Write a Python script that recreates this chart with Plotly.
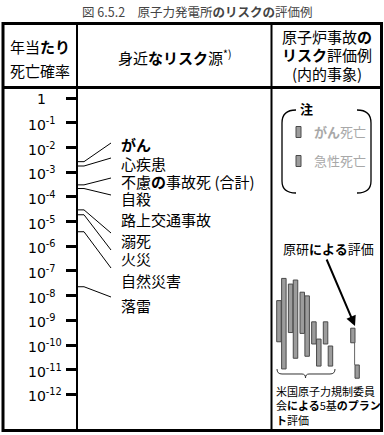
import plotly.graph_objects as go

# ---------------- data ----------------
tick_exponents = [0, -1, -2, -3, -4, -5, -6, -7, -8, -9, -10, -11, -12]

risk_sources = ["<b>がん</b>", "心疾患", "不慮<b>の</b>事故死 (合計)", "自殺", "路上交通事故",
                "溺死", "火災", "自然災害", "落雷"]
risk_prob = [2.7e-3, 1.8e-3, 3.1e-4, 2.2e-4, None, 3.0e-5, 1.9e-5, 3.9e-6, 2.3e-8]

# NRC evaluation of 5 plants: (cancer death, acute death) ranges
nrc_cancer_hi = [6.3e-9, 2.95e-8, 1.38e-8, 8.7e-10, 8.7e-10]
nrc_cancer_lo = [1.35e-10, 3.2e-10, 2.95e-10, 1.1e-10, 1.1e-10]
nrc_acute_hi = [5.0e-8, 4.3e-8, 9.8e-9, 1.74e-10, 9.1e-11]
nrc_acute_lo = [1.07e-11, 2.9e-11, 3.5e-11, 1.4e-11, 1.4e-11]

# JAERI evaluation
jaeri_cancer = [4.8e-10, 1.23e-10]
jaeri_acute = [1.55e-11, 4.5e-12]

# ---------------- layout helpers ----------------
W, H = 384, 435
Y0PX, DEC = 98.3, 24.67


def lg(py):
    return -(py - Y0PX) / DEC


def val(py):
    return 10 ** lg(py)


def pp(py):
    return 1 - py / H


JP = "Noto Sans CJK JP"
fig = go.Figure()

# leader lines for familiar risks
label_px = [145, 163, 181.5, 198.5, 219, 240, 258, 280.5, 305.5]
leader_end_px = [143, 158, 178, 195, None, 233, 250, 268, 297]
for p, e in zip(risk_prob, leader_end_px):
    if p is None:
        continue
    fig.add_trace(go.Scatter(x=[77, 84, 111], y=[p, p, val(e)], mode="lines",
                             line=dict(color="black", width=1), hoverinfo="skip", showlegend=False))


def rect(x0, x1, lo, hi):
    fig.add_trace(go.Scatter(x=[x0, x1, x1, x0, x0], y=[lo, lo, hi, hi, lo], mode="lines",
                             fill="toself", fillcolor="#9c9c9c",
                             line=dict(color="#4a4a4a", width=1), hoverinfo="skip", showlegend=False))


bw = 4.5
for i in range(5):
    xa = 276.7 + i * 11.65
    rect(xa, xa + bw, nrc_cancer_lo[i], nrc_cancer_hi[i])
    rect(xa + bw + 0.4, xa + 2 * bw + 0.4, nrc_acute_lo[i], nrc_acute_hi[i])

# JAERI bars
fig.add_trace(go.Scatter(x=[354.6, 354.6], y=[jaeri_cancer[1], jaeri_acute[0]], mode="lines",
                         line=dict(color="#666", width=1), hoverinfo="skip", showlegend=False))
rect(350.7, 355, jaeri_cancer[1], jaeri_cancer[0])
rect(355, 359.3, jaeri_acute[1], jaeri_acute[0])

shapes = []
# table frame
shapes.append(dict(type="rect", xref="x", yref="paper", x0=3, x1=381.5, y0=pp(430.5), y1=pp(23.5),
                   line=dict(color="black", width=3)))
shapes.append(dict(type="line", xref="x", yref="paper", x0=3, x1=381.5, y0=pp(87.5), y1=pp(87.5),
                   line=dict(color="black", width=3)))
shapes.append(dict(type="line", xref="x", yref="paper", x0=77, x1=77, y0=pp(430.5), y1=pp(23.5),
                   line=dict(color="black", width=2)))
shapes.append(dict(type="line", xref="x", yref="paper", x0=271.5, x1=271.5, y0=pp(430.5), y1=pp(23.5),
                   line=dict(color="black", width=2)))


def path(cmds):
    out = []
    for c in cmds:
        if isinstance(c, str):
            out.append(c)
        else:
            out.append(f"{c[0]},{pp(c[1]):.5f}")
    return " ".join(out)


# legend brackets
shapes.append(dict(type="path", xref="x", yref="paper",
                   path=path(["M", (296, 110), "Q", (282, 110), (282, 123), "L", (282, 181), "Q", (282, 193), (296, 193)]),
                   line=dict(color="black", width=1.3)))
shapes.append(dict(type="path", xref="x", yref="paper",
                   path=path(["M", (357, 110), "Q", (371, 110), (371, 123), "L", (371, 181), "Q", (371, 193), (357, 193)]),
                   line=dict(color="black", width=1.3)))
# legend swatches
for yc in [132, 161]:
    shapes.append(dict(type="rect", xref="x", yref="paper", x0=296, x1=301, y0=pp(yc + 5.5), y1=pp(yc - 5.5),
                       fillcolor="#9c9c9c", line=dict(color="#4a4a4a", width=1)))
# brace under NRC bars
shapes.append(dict(type="path", xref="x", yref="paper",
                   path=path(["M", (277, 369), "Q", (277, 374), (282, 374), "L", (302, 374), "Q", (305.5, 374), (305.5, 378),
                              "Q", (305.5, 374), (309, 374), "L", (330, 374), "Q", (335, 374), (335, 369)]),
                   line=dict(color="#333", width=1)))

ann = []


def txt(x, py, s, size=15, color="black", xanchor="center", family=JP):
    ann.append(dict(x=x, y=pp(py), xref="x", yref="paper", text=s, showarrow=False,
                    xanchor=xanchor, yanchor="middle", align="left", font=dict(family=family, size=size, color=color)))


txt(197, 11, "図 6.5.2　原子力発電所<b>のリスクの</b>評価例", size=12.5, color="#444")
txt(40, 46, "年当<b>たり</b>")
txt(40, 71, "死亡確率")
txt(174.5, 57, "身近<b>なリスク</b>源<sup>*)</sup>")
txt(326.5, 37, "原子炉事故<b>の</b>")
txt(326.5, 55, "<b>リスク</b>評価例")
txt(326.5, 74, "(内的事象)")

for s, py in zip(risk_sources, label_px):
    txt(119, py, s, size=15, xanchor="left")

# legend text
txt(306, 108, "<b>注</b>", size=13)
txt(312, 132, "<b>がん</b>死亡", size=13, color="#a8a8a8", xanchor="left")
txt(312, 161, "急性死亡", size=13, color="#a8a8a8", xanchor="left")

txt(281, 248, "原研<b>による</b>評価", size=13, xanchor="left")
txt(273.5, 405, "米国原子力規制委員<br>会<b>による</b>5基<b>のプラン</b><br><b>ト</b>評価", size=11, xanchor="left")

# tick labels
for e in tick_exponents:
    t = "1" if e == 0 else f"10<sup>{e}</sup>"
    ann.append(dict(x=35 if e == 0 else 26, y=e, xref="x", yref="y", text=t, showarrow=False,
                    xanchor="left", yanchor="middle", yshift=-1,
                    font=dict(family="DejaVu Sans", size=14, color="black")))

# arrow from JAERI label to its bars
ann.append(dict(x=355, y=lg(326), xref="x", yref="y", ax=326, ay=lg(258), axref="x", ayref="y",
                text="", showarrow=True, arrowhead=2, arrowsize=1, arrowwidth=2, arrowcolor="black"))

fig.update_layout(
    width=W, height=H, margin=dict(l=0, r=0, t=0, b=0, pad=0),
    paper_bgcolor="white", plot_bgcolor="white",
    xaxis=dict(range=[0, W], visible=False, fixedrange=True),
    yaxis=dict(type="log", range=[lg(H), lg(0)], showgrid=False, zeroline=False, showline=False,
               ticks="outside", ticklen=11, tickwidth=3, tickcolor="black",
               tickvals=[10.0 ** e for e in tick_exponents], showticklabels=False,
               anchor="free", position=77 / W, fixedrange=True),
    shapes=shapes, annotations=ann, showlegend=False,
)

fig.write_html("out.html", config={"displayModeBar": False})
